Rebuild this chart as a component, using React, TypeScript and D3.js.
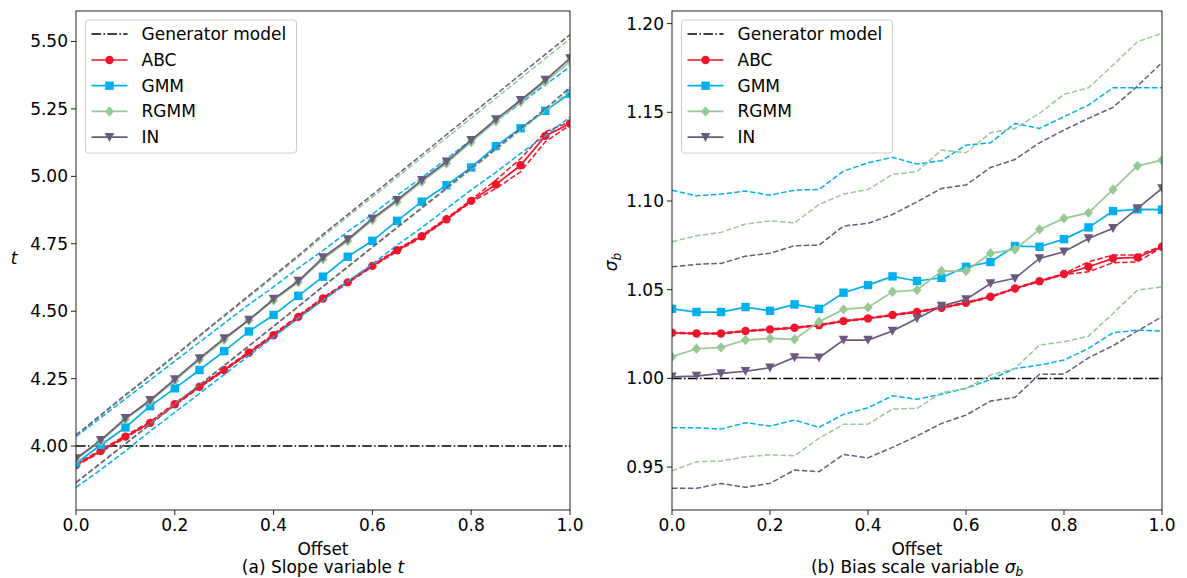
import React from 'react';
import * as d3 from 'd3';

// offsets shared by both panels
const offsets = [0, 0.05, 0.1, 0.15, 0.2, 0.25, 0.3, 0.35, 0.4, 0.45, 0.5, 0.55, 0.6, 0.65, 0.7, 0.75, 0.8, 0.85, 0.9, 0.95, 1.0];

// (a) slope variable t
const tABC = [3.930, 3.982, 4.035, 4.086, 4.155, 4.220, 4.282, 4.346, 4.411, 4.479, 4.547, 4.607, 4.668, 4.726, 4.778, 4.841, 4.909, 4.970, 5.041, 5.150, 5.196];
const tABCLo = [3.926, 3.978, 4.031, 4.083, 4.151, 4.217, 4.279, 4.343, 4.408, 4.474, 4.543, 4.604, 4.665, 4.722, 4.774, 4.838, 4.905, 4.955, 5.017, 5.128, 5.190];
const tABCHi = [3.934, 3.986, 4.039, 4.090, 4.159, 4.224, 4.285, 4.350, 4.415, 4.484, 4.551, 4.611, 4.671, 4.730, 4.782, 4.845, 4.913, 4.986, 5.066, 5.165, 5.202];
const tGMM = [3.936, 4.004, 4.069, 4.148, 4.214, 4.282, 4.352, 4.425, 4.486, 4.557, 4.628, 4.702, 4.761, 4.835, 4.906, 4.967, 5.033, 5.112, 5.178, 5.243, 5.307];
const tGMMLo = [3.847, 3.912, 3.982, 4.055, 4.125, 4.195, 4.265, 4.335, 4.405, 4.475, 4.540, 4.610, 4.675, 4.745, 4.810, 4.880, 4.950, 5.015, 5.085, 5.150, 5.220];
const tGMMHi = [4.035, 4.105, 4.175, 4.245, 4.315, 4.385, 4.455, 4.525, 4.590, 4.660, 4.725, 4.795, 4.860, 4.930, 4.995, 5.065, 5.135, 5.205, 5.270, 5.340, 5.406];
const tRGMM = [3.950, 4.018, 4.099, 4.166, 4.243, 4.320, 4.394, 4.466, 4.540, 4.607, 4.693, 4.760, 4.838, 4.906, 4.980, 5.048, 5.127, 5.204, 5.276, 5.350, 5.425];
const tRGMMLo = [3.866, 3.938, 4.010, 4.082, 4.155, 4.228, 4.300, 4.372, 4.445, 4.518, 4.590, 4.662, 4.735, 4.808, 4.880, 4.952, 5.025, 5.098, 5.170, 5.244, 5.318];
const tRGMMHi = [4.038, 4.112, 4.186, 4.259, 4.332, 4.406, 4.480, 4.553, 4.627, 4.700, 4.777, 4.850, 4.923, 4.996, 5.070, 5.143, 5.216, 5.290, 5.363, 5.437, 5.510];
const tIN = [3.954, 4.022, 4.103, 4.170, 4.247, 4.325, 4.399, 4.468, 4.545, 4.612, 4.699, 4.766, 4.843, 4.912, 4.986, 5.054, 5.134, 5.211, 5.282, 5.357, 5.437];
const tINLo = [3.864, 3.936, 4.008, 4.080, 4.153, 4.226, 4.298, 4.371, 4.444, 4.517, 4.592, 4.665, 4.738, 4.811, 4.884, 4.957, 5.030, 5.103, 5.176, 5.250, 5.330];
const tINHi = [4.041, 4.115, 4.190, 4.262, 4.336, 4.410, 4.484, 4.558, 4.632, 4.706, 4.785, 4.858, 4.932, 5.006, 5.080, 5.155, 5.229, 5.303, 5.378, 5.452, 5.525];
const tGenerator = 4.0;
const tTicks = [4.0, 4.25, 4.5, 4.75, 5.0, 5.25, 5.5];

// (b) bias scale variable sigma_b
const sABC = [1.0257, 1.0253, 1.0253, 1.0267, 1.0276, 1.0285, 1.0300, 1.0323, 1.0338, 1.0357, 1.0375, 1.0398, 1.0426, 1.0460, 1.0507, 1.0548, 1.0588, 1.0629, 1.0676, 1.0682, 1.0742];
const sABCLo = [1.0254, 1.0250, 1.0250, 1.0264, 1.0273, 1.0282, 1.0297, 1.0320, 1.0335, 1.0354, 1.0372, 1.0395, 1.0423, 1.0457, 1.0504, 1.0545, 1.0585, 1.0601, 1.0652, 1.0657, 1.0739];
const sABCHi = [1.0260, 1.0256, 1.0256, 1.0270, 1.0279, 1.0288, 1.0303, 1.0326, 1.0341, 1.0360, 1.0378, 1.0401, 1.0429, 1.0463, 1.0510, 1.0551, 1.0591, 1.0657, 1.0695, 1.0695, 1.0745];
const sGMM = [1.0392, 1.0374, 1.0374, 1.0402, 1.0381, 1.0417, 1.0392, 1.0483, 1.0526, 1.0575, 1.0549, 1.0567, 1.0629, 1.0656, 1.0746, 1.0742, 1.0785, 1.0851, 1.0943, 1.0953, 1.0951];
const sGMMLo = [0.9722, 0.9722, 0.9714, 0.9750, 0.9731, 0.9765, 0.9724, 0.9797, 0.9834, 0.9902, 0.9882, 0.9911, 0.9944, 0.9994, 1.0056, 1.0075, 1.0103, 1.0169, 1.0257, 1.0272, 1.0267];
const sGMMHi = [1.1061, 1.1029, 1.1039, 1.1056, 1.1033, 1.1061, 1.1065, 1.1168, 1.1215, 1.1246, 1.1208, 1.1227, 1.1315, 1.1328, 1.1437, 1.1409, 1.1475, 1.1541, 1.1638, 1.1638, 1.1638];
const sRGMM = [1.0122, 1.0167, 1.0175, 1.0216, 1.0225, 1.0220, 1.0319, 1.0389, 1.0400, 1.0488, 1.0498, 1.0605, 1.0605, 1.0705, 1.0727, 1.0840, 1.0902, 1.0933, 1.1065, 1.1198, 1.1230];
const sRGMMLo = [0.9479, 0.9530, 0.9534, 0.9558, 0.9569, 0.9564, 0.9662, 0.9741, 0.9742, 0.9827, 0.9831, 0.9919, 0.9944, 1.0019, 1.0056, 1.0188, 1.0206, 1.0238, 1.0366, 1.0498, 1.0516];
const sRGMMHi = [1.0770, 1.0804, 1.0823, 1.0870, 1.0888, 1.0877, 1.0980, 1.1039, 1.1065, 1.1150, 1.1165, 1.1287, 1.1272, 1.1385, 1.1409, 1.1494, 1.1601, 1.1638, 1.1766, 1.1898, 1.1945];
const sIN = [1.0009, 1.0013, 1.0028, 1.0040, 1.0060, 1.0118, 1.0116, 1.0216, 1.0216, 1.0267, 1.0338, 1.0408, 1.0445, 1.0535, 1.0564, 1.0676, 1.0714, 1.0789, 1.0846, 1.0958, 1.1071];
const sINLo = [0.9380, 0.9380, 0.9408, 0.9386, 0.9408, 0.9483, 0.9474, 0.9571, 0.9552, 0.9611, 0.9675, 0.9746, 0.9793, 0.9872, 0.9893, 1.0023, 1.0024, 1.0116, 1.0184, 1.0268, 1.0347];
const sINHi = [1.0629, 1.0643, 1.0648, 1.0689, 1.0705, 1.0748, 1.0751, 1.0859, 1.0874, 1.0924, 1.0995, 1.1071, 1.1090, 1.1189, 1.1234, 1.1328, 1.1400, 1.1466, 1.1528, 1.1648, 1.1780];
const sGenerator = 1.0;
const sTicks = [0.95, 1.0, 1.05, 1.1, 1.15, 1.2];

const xTicks = [0, 0.2, 0.4, 0.6, 0.8, 1.0];

const methods = ['ABC', 'GMM', 'RGMM', 'IN'];
const colors: Record<string, string> = { ABC: '#f0142d', GMM: '#00b0ee', RGMM: '#98c994', IN: '#6a5a7e' };
const markers: Record<string, string> = { ABC: 'circle', GMM: 'square', RGMM: 'diamond', IN: 'triangle' };

const FONT = 'DejaVu Sans, sans-serif';
const FS = 17;
const DASH = '5.5,2.4';
const DASHDOT = '9.6,2.4,1.5,2.4';

const Marker = ({ type, x, y, color }: { type: string; x: number; y: number; color: string }) => {
  if (type === 'circle') return <circle cx={x} cy={y} r={4.2} fill={color} />;
  if (type === 'square') return <rect x={x - 4.2} y={y - 4.2} width={8.4} height={8.4} fill={color} />;
  if (type === 'diamond') return <path d={`M${x},${y - 5.2}L${x + 4.6},${y}L${x},${y + 5.2}L${x - 4.6},${y}Z`} fill={color} />;
  return <path d={`M${x - 4.8},${y - 4.2}L${x + 4.8},${y - 4.2}L${x},${y + 4.8}Z`} fill={color} />;
};

type Series = { name: string; mean: number[]; lo: number[]; hi: number[] };

const Panel = ({ id, left, width, series, yDomain, yTicks, generator, yLabel, caption }: {
  id: string; left: number; width: number; series: Series[]; yDomain: [number, number]; yTicks: number[];
  generator: number; yLabel: React.ReactNode; caption: React.ReactNode;
}) => {
  const top = 11, bottom = 510;
  const x = d3.scaleLinear().domain([0, 1]).range([left, left + width]);
  const y = d3.scaleLinear().domain(yDomain).range([bottom, top]);
  const line = d3.line<number>().x((_, i) => x(offsets[i])).y(d => y(d));
  const legendX = left + 9.5, legendY = 20;

  return (
    <g>
      <defs>
        <clipPath id={`clip-${id}`}>
          <rect x={left} y={top} width={width} height={bottom - top} />
        </clipPath>
      </defs>
      <g clipPath={`url(#clip-${id})`}>
        <line x1={left} x2={left + width} y1={y(generator)} y2={y(generator)} stroke="#000" strokeWidth={1.5} strokeDasharray={DASHDOT} />
        {series.map(s => (
          <g key={s.name}>
            <path d={line(s.lo) || ''} fill="none" stroke={colors[s.name]} strokeWidth={1.5} strokeDasharray={DASH} />
            <path d={line(s.hi) || ''} fill="none" stroke={colors[s.name]} strokeWidth={1.5} strokeDasharray={DASH} />
            <path d={line(s.mean) || ''} fill="none" stroke={colors[s.name]} strokeWidth={1.7} />
            {s.mean.map((v, i) => (
              <Marker key={i} type={markers[s.name]} x={x(offsets[i])} y={y(v)} color={colors[s.name]} />
            ))}
          </g>
        ))}
      </g>
      <rect x={left} y={top} width={width} height={bottom - top} fill="none" stroke="#222" strokeWidth={1} />
      {xTicks.map(t => (
        <g key={t}>
          <line x1={x(t)} x2={x(t)} y1={bottom} y2={bottom + 5} stroke="#222" />
          <text x={x(t)} y={bottom + 21} textAnchor="middle" fontSize={FS} fontFamily={FONT}>{d3.format('.1f')(t)}</text>
        </g>
      ))}
      {yTicks.map(t => (
        <g key={t}>
          <line x1={left - 5} x2={left} y1={y(t)} y2={y(t)} stroke="#222" />
          <text x={left - 8} y={y(t)} dy="0.35em" textAnchor="end" fontSize={FS} fontFamily={FONT}>{d3.format('.2f')(t)}</text>
        </g>
      ))}
      <text x={left + width / 2} y={555} textAnchor="middle" fontSize={FS} fontFamily={FONT}>Offset</text>
      <text x={left + width / 2} y={573} textAnchor="middle" fontSize={FS} fontFamily={FONT}>{caption}</text>
      {yLabel}
      <rect x={legendX} y={legendY} width={211} height={133} rx={3} fill="#fff" fillOpacity={0.8} stroke="#ccc" />
      <line x1={legendX + 6} x2={legendX + 42} y1={legendY + 14} y2={legendY + 14} stroke="#000" strokeWidth={1.5} strokeDasharray={DASHDOT} />
      <text x={legendX + 56} y={legendY + 14} dy="0.35em" fontSize={FS} fontFamily={FONT}>Generator model</text>
      {methods.map((m, i) => {
        const ly = legendY + 40 + i * 25.7;
        return (
          <g key={m}>
            <line x1={legendX + 6} x2={legendX + 42} y1={ly} y2={ly} stroke={colors[m]} strokeWidth={1.7} />
            <Marker type={markers[m]} x={legendX + 24} y={ly} color={colors[m]} />
            <text x={legendX + 56} y={ly} dy="0.35em" fontSize={FS} fontFamily={FONT}>{m}</text>
          </g>
        );
      })}
    </g>
  );
};

export default function App() {
  const tSeries: Series[] = [
    { name: 'ABC', mean: tABC, lo: tABCLo, hi: tABCHi },
    { name: 'GMM', mean: tGMM, lo: tGMMLo, hi: tGMMHi },
    { name: 'RGMM', mean: tRGMM, lo: tRGMMLo, hi: tRGMMHi },
    { name: 'IN', mean: tIN, lo: tINLo, hi: tINHi },
  ];
  const sSeries: Series[] = [
    { name: 'ABC', mean: sABC, lo: sABCLo, hi: sABCHi },
    { name: 'GMM', mean: sGMM, lo: sGMMLo, hi: sGMMHi },
    { name: 'RGMM', mean: sRGMM, lo: sRGMMLo, hi: sRGMMHi },
    { name: 'IN', mean: sIN, lo: sINLo, hi: sINHi },
  ];

  return (
    <svg width={1187} height={578} style={{ position: 'absolute', left: 0, top: 0, background: '#fff' }}>
      <Panel
        id="a" left={76} width={494} series={tSeries} yDomain={[3.763, 5.613]} yTicks={tTicks} generator={tGenerator}
        yLabel={<text x={14} y={264} textAnchor="middle" fontSize={FS} fontStyle="italic" fontFamily={FONT}>t</text>}
        caption={<>(a) Slope variable <tspan fontStyle="italic">t</tspan></>}
      />
      <Panel
        id="b" left={672} width={490} series={sSeries} yDomain={[0.9258, 1.2071]} yTicks={sTicks} generator={sGenerator}
        yLabel={
          <text transform="translate(617,262) rotate(-90)" textAnchor="middle" fontSize={FS} fontFamily={FONT}>
            <tspan fontStyle="italic">σ</tspan><tspan fontStyle="italic" fontSize={12} dy={4}>b</tspan>
          </text>
        }
        caption={<>(b) Bias scale variable <tspan fontStyle="italic">σ</tspan><tspan fontStyle="italic" fontSize={12} dy={3}>b</tspan></>}
      />
    </svg>
  );
}
